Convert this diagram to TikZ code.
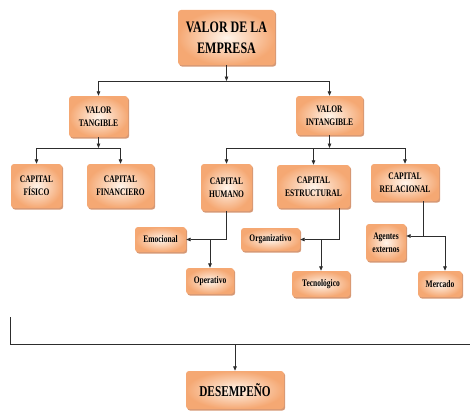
\documentclass[tikz,border=0pt]{standalone}
\usepackage{fontspec}
\setmainfont[FakeStretch=0.75]{Liberation Serif}
\usetikzlibrary{arrows.meta,shadows}
\definecolor{boxedge}{RGB}{245,168,115}
\definecolor{boxcore}{RGB}{255,244,234}
\definecolor{boxshade}{RGB}{200,118,70}
\definecolor{linegray}{RGB}{45,45,45}
\begin{document}
\begin{tikzpicture}[x=1pt, y=-1pt,
  box/.style={rounded corners=3pt, inner color=boxcore, outer color=boxedge, align=center,
    text=black, inner sep=1pt,
    font=\bfseries\fontsize{10}{13}\selectfont,
    drop shadow={shadow xshift=1.2pt, shadow yshift=-1.6pt, fill=boxshade, opacity=0.75}},
  bigbox/.style={box, font=\bfseries\fontsize{16}{21}\selectfont},
  boxsize/.style 2 args={minimum width=#1pt, minimum height=#2pt},
  wire/.style={draw=linegray, line width=0.8pt},
  arrow/.style={wire, -{Triangle[length=4.5pt,width=3.6pt]}}]
\useasboundingbox (0,0) rectangle (470,412);
% levels of the buses
\coordinate (lvA) at (0,81);
\coordinate (lvB) at (0,148);
\coordinate (lvR) at (0,236);
\coordinate (lvD) at (0,344);
\coordinate (xe) at (339,0);
\coordinate (xr) at (423,0);
\coordinate (xm) at (445,0);
% boxes
\node[bigbox, boxsize={97}{55}] (top) at (226.5,37.5) {VALOR DE LA\\EMPRESA};
\node[box, boxsize={59}{41}] (vt) at (98.5,116.5) {VALOR\\TANGIBLE};
\node[box, boxsize={67}{39}] (vi) at (329.5,115.5) {VALOR\\INTANGIBLE};
\node[box, boxsize={51}{44}] (cf) at (36.5,186) {CAPITAL\\FÍSICO};
\node[box, boxsize={67}{44}] (cfin) at (120.5,186) {CAPITAL\\FINANCIERO};
\node[box, boxsize={51}{47}] (ch) at (226.5,187.5) {CAPITAL\\HUMANO};
\node[box, boxsize={73}{43}] (ce) at (313.5,186.5) {CAPITAL\\ESTRUCTURAL};
\node[box, boxsize={68}{37}] (cr) at (405,182.5) {CAPITAL\\RELACIONAL};
\node[box, boxsize={51}{25}] (emo) at (160.5,239.5) {Emocional};
\node[box, boxsize={48}{26}] (ope) at (210,281) {Operativo};
\node[box, boxsize={59}{23}] (org) at (270.5,239.5) {Organizativo};
\node[box, boxsize={58}{26}] (tec) at (321,284) {Tecnológico};
\node[box, boxsize={40}{37}] (age) at (386,242.5) {Agentes\\externos};
\node[box, boxsize={44}{26}] (mer) at (440,284) {Mercado};
\node[box, boxsize={98}{38}, font=\bfseries\fontsize{15}{18}\selectfont] (des) at (235,390) {DESEMPEÑO};
% connectors
\draw[arrow] (top.south) -- (top.south |- lvA);
\draw[wire] (vt.north |- lvA) -- (vi.north |- lvA);
\draw[arrow] (vt.north |- lvA) -- (vt.north);
\draw[arrow] (vi.north |- lvA) -- (vi.north);
\draw[arrow] (vt.south) -- (vt.south |- lvB);
\draw[wire] (cf.north |- lvB) -- (cfin.north |- lvB);
\draw[arrow] (cf.north |- lvB) -- (cf.north);
\draw[arrow] (cfin.north |- lvB) -- (cfin.north);
\draw[arrow] (vi.south) -- (vi.south |- lvB);
\draw[wire] (ch.north |- lvB) -- (cr.north |- lvB);
\draw[arrow] (ch.north |- lvB) -- (ch.north);
\draw[arrow] (ce.north |- lvB) -- (ce.north);
\draw[arrow] (cr.north |- lvB) -- (cr.north);
\draw[arrow] (ch.south) |- (emo.east);
\draw[arrow] (ope.north |- emo.east) -- (ope.north);
\draw[arrow] (ce.south -| xe) |- (org.east);
\draw[arrow] (tec.north |- org.east) -- (tec.north);
\draw[arrow] (cr.south -| xr) |- (age.east |- lvR);
\draw[arrow] (xr |- lvR) -| (mer.north -| xm);
\coordinate (bL) at (10,317);
\coordinate (bR) at (470,344);
\draw[wire] (bL) |- (bR);
\draw[arrow] (des.north |- lvD) -- (des.north);
\end{tikzpicture}
\end{document}
